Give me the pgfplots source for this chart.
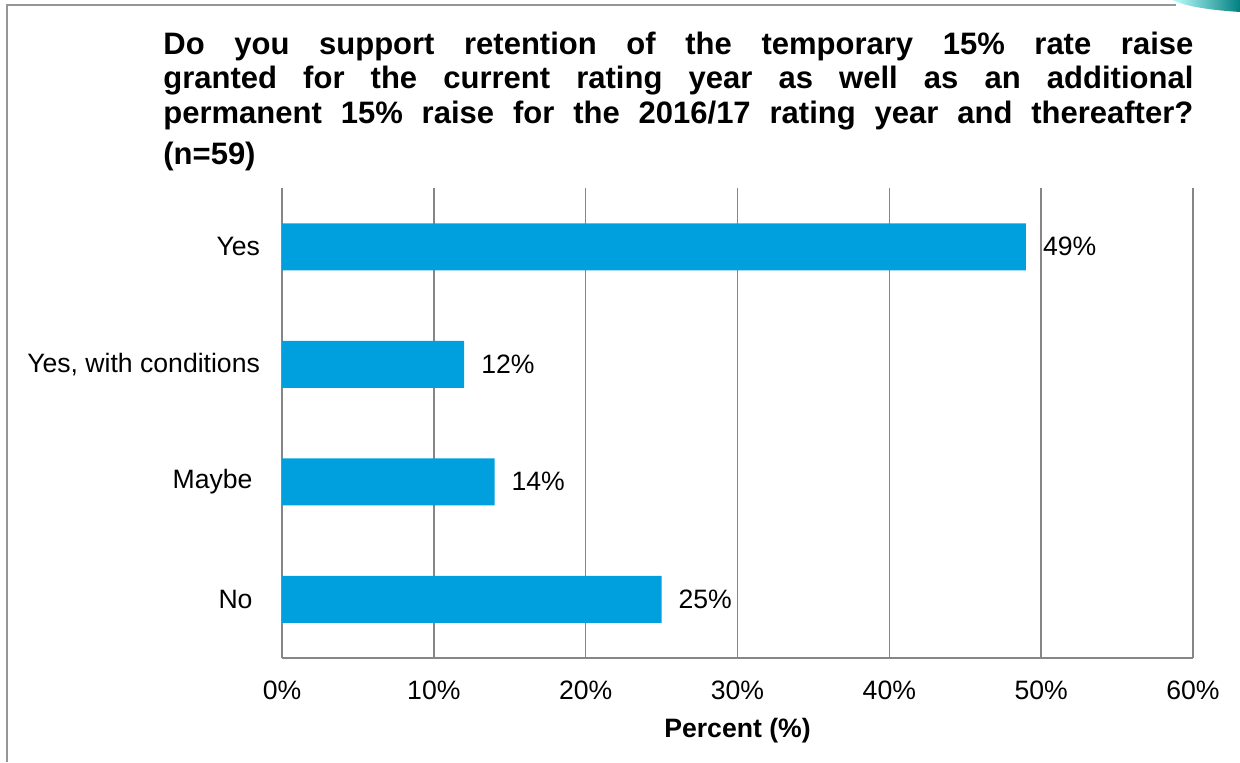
\documentclass[border=0pt]{standalone}
\usepackage{pgfplots}
\pgfplotsset{compat=1.18}
\usepackage{fontspec}
\setmainfont{Liberation Sans}
\definecolor{barblue}{RGB}{0,160,223}
\definecolor{gridgray}{RGB}{134,134,134}
\definecolor{framegray}{RGB}{150,150,150}
\newcommand{\lblfont}{\fontsize{13.3}{16}\selectfont}
\newcommand{\ttlfont}{\fontsize{15.5}{18}\selectfont\bfseries}
\newcommand{\trail}{\rule{3.7pt}{0pt}}

\pgfplotstableread{
y val
0 25
1 14
2 12
3 49
}\answers

\begin{document}
\begin{tikzpicture}[x=1pt,y=1pt]
\path[use as bounding box] (0,0) rectangle (620,381);
% slide frame
\draw[framegray, line width=0.8pt] (3.5,0) -- (3.5,378.5) -- (588,378.5);
\shade[left color=cyan!25, right color=teal] (586,381) -- (620,381) -- (620,375)
  .. controls (605,376) and (594,377.5) .. (586,381) -- cycle;

% title
\node[anchor=base west, inner sep=0] at (81.5,353.5) {\makebox[515pt][s]{\ttlfont Do you support retention of the temporary 15\% rate raise}};
\node[anchor=base west, inner sep=0] at (81.5,336.5) {\makebox[515pt][s]{\ttlfont granted for the current rating year as well as an additional}};
\node[anchor=base west, inner sep=0] at (81.5,319.5) {\makebox[515pt][s]{\ttlfont permanent 15\% raise for the 2016/17 rating year and thereafter?}};
\node[anchor=base west, inner sep=0] at (81.5,298.5) {\ttlfont (n=59)};

\begin{axis}[
    at={(141pt,52pt)}, anchor=south west,
    xbar,
    width=455.5pt, height=235pt, scale only axis,
    xmin=0, xmax=60, ymin=-0.5, ymax=3.5,
    xtick={0,10,...,60},
    xticklabel={\pgfmathprintnumber{\tick}\%},
    ytick={0,1,2,3},
    yticklabels={No\trail,Maybe\trail,{Yes, with conditions},Yes},
    bar width=23.5pt,
    axis x line=bottom, axis y line=left,
    axis line style={draw=gridgray, line width=0.75pt, -},
    xmajorgrids,
    grid style={gridgray, line width=0.75pt},
    major tick length=0pt,
    tick label style={font=\lblfont},
    /pgf/number format/assume math mode=true,
    xticklabel style={yshift=-8pt},
    yticklabel style={xshift=-7.5pt},
    xlabel={\textbf{Percent (\%)}},
    xlabel style={font=\lblfont, at={(axis description cs:0.5,0)}, anchor=center, yshift=-36.5pt},
    point meta=x,
    nodes near coords={\pgfmathprintnumber{\pgfplotspointmeta}\%},
    nodes near coords style={font=\lblfont, anchor=west, xshift=5pt},
]
\addplot[fill=barblue, draw=none] table[x=val, y=y] {\answers};
\end{axis}
\end{tikzpicture}
\end{document}
